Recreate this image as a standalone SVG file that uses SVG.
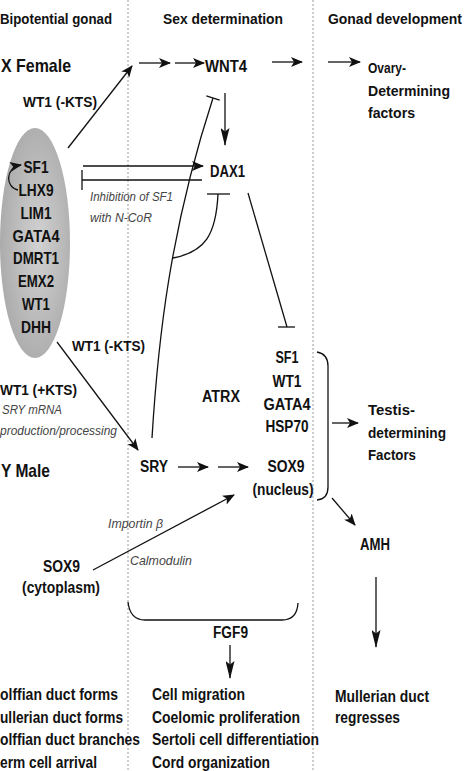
<svg xmlns="http://www.w3.org/2000/svg" width="467" height="771" viewBox="0 0 467 771">
<style>
.t{font-family:"Liberation Sans",Arial,sans-serif;font-weight:bold;fill:#111;}
.i{font-family:"Liberation Sans",Arial,sans-serif;font-style:italic;fill:#444;font-size:13px;}
.h{font-size:14px;}
.f{font-size:15px;}
.m{font-size:16px;}
.b{font-size:19px;}
.l{stroke:#111;stroke-width:1.3;fill:none;}
.d{stroke:#9a9a9a;stroke-width:1;stroke-dasharray:2,2;}
</style>
<defs>
<marker id="arr" viewBox="0 0 12 10" refX="11" refY="5" markerWidth="12" markerHeight="10" markerUnits="userSpaceOnUse" orient="auto"><path d="M0,0 L12,5 L0,10 L3,5 z" fill="#111"/></marker>
<marker id="arrL" viewBox="0 0 20 10" refX="19" refY="5" markerWidth="20" markerHeight="9" markerUnits="userSpaceOnUse" orient="auto"><path d="M0,0 L20,5 L0,10 L4,5 z" fill="#111"/></marker>
<marker id="tee" viewBox="0 0 4 14" refX="2" refY="7" markerWidth="4" markerHeight="14" markerUnits="userSpaceOnUse" orient="auto"><path d="M2,0 L2,14" stroke="#111" stroke-width="1.3"/></marker>
<marker id="teeL" viewBox="0 0 4 20" refX="2" refY="10" markerWidth="4" markerHeight="20" markerUnits="userSpaceOnUse" orient="auto"><path d="M2,0 L2,20" stroke="#111" stroke-width="1.3"/></marker>
<radialGradient id="g" cx="0.55" cy="0.5" r="0.6"><stop offset="0" stop-color="#d2d2d2"/><stop offset="1" stop-color="#a8a8a8"/></radialGradient>
</defs>
<rect width="467" height="771" fill="#fff"/>
<g id="dividers">
<line class="d" x1="128" y1="0" x2="128" y2="771"/>
<line class="d" x1="313" y1="0" x2="313" y2="771"/>
</g>
<g id="headers">
<text class="t h" x="0" y="24" textLength="112" lengthAdjust="spacingAndGlyphs">Bipotential gonad</text>
<text class="t h" x="163" y="24" textLength="120" lengthAdjust="spacingAndGlyphs">Sex determination</text>
<text class="t h" x="328" y="24" textLength="134" lengthAdjust="spacingAndGlyphs">Gonad development</text>
<text class="t b" x="1" y="72" textLength="70" lengthAdjust="spacingAndGlyphs">X Female</text>
<text class="t b" x="1" y="477" textLength="49" lengthAdjust="spacingAndGlyphs">Y Male</text>
</g>
<g id="gonad">
<ellipse cx="35" cy="243" rx="35" ry="115" fill="url(#g)"/>
<g class="t" font-size="17" text-anchor="middle">
<text x="36" y="173" textLength="25" lengthAdjust="spacingAndGlyphs">SF1</text>
<text x="36" y="196" textLength="35" lengthAdjust="spacingAndGlyphs">LHX9</text>
<text x="36" y="219" textLength="31" lengthAdjust="spacingAndGlyphs">LIM1</text>
<text x="36" y="242" textLength="47" lengthAdjust="spacingAndGlyphs">GATA4</text>
<text x="36" y="264" textLength="46" lengthAdjust="spacingAndGlyphs">DMRT1</text>
<text x="36" y="287" textLength="36" lengthAdjust="spacingAndGlyphs">EMX2</text>
<text x="36" y="310" textLength="28" lengthAdjust="spacingAndGlyphs">WT1</text>
<text x="36" y="333" textLength="30" lengthAdjust="spacingAndGlyphs">DHH</text>
</g>
</g>
<g id="wnt4"><text class="t m" x="205" y="72" textLength="42" lengthAdjust="spacingAndGlyphs">WNT4</text></g>
<g id="ovary"><g class="t f">
<text x="368" y="73" textLength="38" lengthAdjust="spacingAndGlyphs">Ovary-</text>
<text x="368" y="96" textLength="82" lengthAdjust="spacingAndGlyphs">Determining</text>
<text x="368" y="118" textLength="47" lengthAdjust="spacingAndGlyphs">factors</text>
</g></g>
<g id="dax1"><text class="t m" x="210" y="177" textLength="35" lengthAdjust="spacingAndGlyphs">DAX1</text></g>
<g id="labels">
<text class="t h" x="23" y="107" textLength="74" lengthAdjust="spacingAndGlyphs">WT1 (-KTS)</text>
<text class="i" x="90" y="201" textLength="83" lengthAdjust="spacingAndGlyphs">Inhibition of SF1</text>
<text class="i" x="90" y="222" textLength="62" lengthAdjust="spacingAndGlyphs">with N-CoR</text>
<text class="t h" x="72" y="351" textLength="73" lengthAdjust="spacingAndGlyphs">WT1 (-KTS)</text>
<text class="t h" x="0" y="395" textLength="77" lengthAdjust="spacingAndGlyphs">WT1 (+KTS)</text>
<text class="i" x="2" y="414" textLength="60" lengthAdjust="spacingAndGlyphs">SRY mRNA</text>
<text class="i" x="0" y="435" textLength="117" lengthAdjust="spacingAndGlyphs">production/processing</text>
<text class="i" x="108" y="528" textLength="55" lengthAdjust="spacingAndGlyphs">Importin β</text>
<text class="i" x="130" y="565" textLength="62" lengthAdjust="spacingAndGlyphs">Calmodulin</text>
</g>
<g id="sry"><text class="t m" x="140" y="472" textLength="28" lengthAdjust="spacingAndGlyphs">SRY</text></g>
<g id="atrx"><text class="t m" x="202" y="402" textLength="38" lengthAdjust="spacingAndGlyphs">ATRX</text></g>
<g id="testis-factors"><g class="t m" text-anchor="middle">
<text x="287" y="363" textLength="23" lengthAdjust="spacingAndGlyphs">SF1</text>
<text x="287" y="387" textLength="29" lengthAdjust="spacingAndGlyphs">WT1</text>
<text x="287" y="410" textLength="47" lengthAdjust="spacingAndGlyphs">GATA4</text>
<text x="287" y="432" textLength="43" lengthAdjust="spacingAndGlyphs">HSP70</text>
<text x="286" y="472" textLength="37" lengthAdjust="spacingAndGlyphs">SOX9</text>
<text x="283" y="495" textLength="61" lengthAdjust="spacingAndGlyphs">(nucleus)</text>
</g></g>
<g id="testis"><g class="t f">
<text x="368" y="415" textLength="47" lengthAdjust="spacingAndGlyphs">Testis-</text>
<text x="368" y="438" textLength="78" lengthAdjust="spacingAndGlyphs">determining</text>
<text x="368" y="460" textLength="48" lengthAdjust="spacingAndGlyphs">Factors</text>
</g></g>
<g id="amh"><text class="t m" x="360" y="550" textLength="30" lengthAdjust="spacingAndGlyphs">AMH</text></g>
<g id="mullerian"><g class="t m">
<text x="335" y="702" textLength="94" lengthAdjust="spacingAndGlyphs">Mullerian duct</text>
<text x="335" y="723" textLength="65" lengthAdjust="spacingAndGlyphs">regresses</text>
</g></g>
<g id="sox9-cyto"><g class="t m">
<text x="43" y="572" textLength="37" lengthAdjust="spacingAndGlyphs">SOX9</text>
<text x="22" y="593" textLength="78" lengthAdjust="spacingAndGlyphs">(cytoplasm)</text>
</g></g>
<g id="fgf9"><text class="t m" x="213" y="638" textLength="35" lengthAdjust="spacingAndGlyphs">FGF9</text></g>
<g id="bipotential-events"><g class="t m">
<text x="0" y="700" textLength="118" lengthAdjust="spacingAndGlyphs">olffian duct forms</text>
<text x="0" y="723" textLength="123" lengthAdjust="spacingAndGlyphs">ullerian duct forms</text>
<text x="0" y="745" textLength="140" lengthAdjust="spacingAndGlyphs">olffian duct branches</text>
<text x="0" y="768" textLength="97" lengthAdjust="spacingAndGlyphs">erm cell arrival</text>
</g></g>
<g id="testis-events"><g class="t m">
<text x="152" y="700" textLength="93" lengthAdjust="spacingAndGlyphs">Cell migration</text>
<text x="152" y="723" textLength="148" lengthAdjust="spacingAndGlyphs">Coelomic proliferation</text>
<text x="152" y="745" textLength="167" lengthAdjust="spacingAndGlyphs">Sertoli cell differentiation</text>
<text x="152" y="768" textLength="118" lengthAdjust="spacingAndGlyphs">Cord organization</text>
</g></g>
<g id="connectors">
<path class="l" d="M18,190 C6,188 4,168 21,165" marker-end="url(#arr)"/>
<line class="l" x1="68" y1="148" x2="132" y2="66" marker-end="url(#arr)"/>
<line class="l" x1="139" y1="63" x2="170" y2="63" marker-end="url(#arr)"/>
<line class="l" x1="175" y1="63" x2="204" y2="63" marker-end="url(#arr)"/>
<line class="l" x1="272" y1="62" x2="302" y2="62" marker-end="url(#arr)"/>
<line class="l" x1="328" y1="62" x2="360" y2="62" marker-end="url(#arr)"/>
<line class="l" x1="225" y1="93" x2="225" y2="145" marker-end="url(#arrL)"/>
<line class="l" x1="83" y1="166" x2="203" y2="166" marker-end="url(#arr)"/>
<line class="l" x1="202" y1="180" x2="82" y2="180" marker-end="url(#teeL)"/>
<path class="l" d="M152,438 C158,340 170,230 213,98" marker-end="url(#tee)"/>
<line class="l" x1="207" y1="194" x2="230" y2="194"/>
<path class="l" d="M218,194 C216,235 205,252 173,258"/>
<line class="l" x1="248" y1="193" x2="287" y2="327"/>
<line class="l" x1="278" y1="327" x2="295" y2="327"/>
<line class="l" x1="57" y1="342" x2="138" y2="450" marker-end="url(#arr)"/>
<line class="l" x1="178" y1="467" x2="208" y2="467" marker-end="url(#arr)"/>
<line class="l" x1="218" y1="467" x2="248" y2="467" marker-end="url(#arr)"/>
<line class="l" x1="93" y1="570" x2="234" y2="495" marker-end="url(#arr)"/>
<path class="l" d="M317,352 Q328,354 328,366 L328,487 Q328,499 317,500"/>
<line class="l" x1="332" y1="423" x2="358" y2="423" marker-end="url(#arr)"/>
<line class="l" x1="332" y1="498" x2="355" y2="525" marker-end="url(#arr)"/>
<line class="l" x1="376" y1="577" x2="376" y2="647" marker-end="url(#arrL)"/>
<path class="l" d="M128,602 Q130,620 145,620 L282,620 Q297,620 298,603"/>
<line class="l" x1="230" y1="645" x2="230" y2="678" marker-end="url(#arrL)"/>
</g>
</svg>
